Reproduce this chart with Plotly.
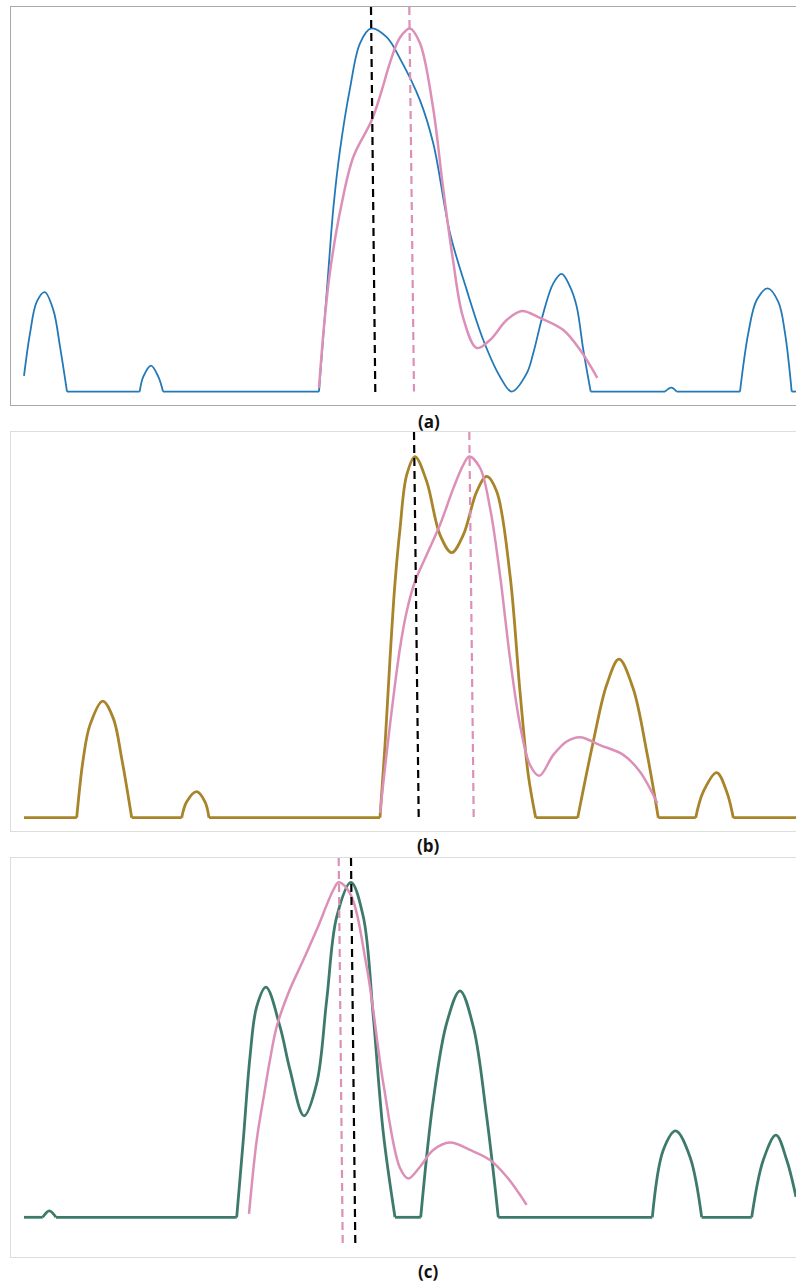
import plotly.graph_objects as go

# ---------------- data (position along x, normalised intensity) ----------------
a_blue_x = [24, 30, 36.7, 44.7, 53.3, 60, 67, 139.7, 143.3, 151, 158.3, 163,
            319, 328.3, 333.3, 340, 350, 360, 371, 386.7, 400, 420, 433.3, 450, 466.7,
            483.3, 500, 511.7, 526.7, 533.3, 543.3, 553.3, 561.7, 570, 576.7, 583.3, 590.7,
            665, 671.3, 676.7, 740, 748.3, 756.7, 767.7, 778.3, 785, 791.7, 796]
a_blue_y = [0.043, 0.160, 0.247, 0.274, 0.225, 0.124, 0, 0, 0.041, 0.0715, 0.041, 0,
            0, 0.330, 0.504, 0.665, 0.835, 0.959, 1.0, 0.976, 0.917, 0.802, 0.683, 0.436, 0.280,
            0.142, 0.041, 0, 0.050, 0.106, 0.216, 0.298, 0.324, 0.289, 0.234, 0.115, 0,
            0, 0.011, 0, 0, 0.161, 0.252, 0.284, 0.247, 0.161, 0, 0]
a_pink_x = [319, 324, 330, 340.7, 353.3, 371.7, 381.7, 390, 400, 410,
            420, 433, 443, 453, 463, 476.7, 490, 506.7, 521.7, 540, 563, 580, 597.3]
a_pink_y = [0.010, 0.180, 0.330, 0.504, 0.646, 0.747, 0.829, 0.906, 0.975,
            1.0, 0.959, 0.783, 0.563, 0.362, 0.205, 0.120, 0.142, 0.197, 0.222, 0.203, 0.170,
            0.115, 0.038]

b_gold_x = [24, 76.7, 83.3, 90, 102.7, 113.3, 121.7, 131.7, 181.7, 186.7,
            196.7, 205, 209, 380, 385, 390, 395, 400, 406.7, 415, 426.7, 440,
            451.7, 463.3, 476.7, 486.7, 496.7, 510, 520, 528.3, 535.7, 577.7,
            593.3, 606.7, 619, 633, 646.7, 658.3, 695.7, 703.3, 716.7, 726.7,
            733.3, 796]
b_gold_y = [0, 0, 0.164, 0.257, 0.323, 0.275, 0.164, 0, 0, 0.044,
            0.072, 0.044, 0, 0, 0.20, 0.44, 0.65, 0.80, 0.949, 1.0, 0.931, 0.783,
            0.734, 0.783, 0.903, 0.945, 0.903, 0.672, 0.349, 0.118, 0, 0,
            0.211, 0.368, 0.439, 0.359, 0.183, 0, 0, 0.072, 0.125, 0.072,
            0, 0]
b_pink_x = [380, 390, 400, 406.7, 415, 426.7, 440, 453.3, 463.3, 469.3, 480, 490, 500, 510, 520,
            530, 539.3, 553.3, 566.7, 580, 600, 623.3, 640, 657.3]
b_pink_y = [0.013, 0.257, 0.470, 0.571, 0.654, 0.728, 0.811, 0.912, 0.977, 1.0, 0.969, 0.858,
            0.672, 0.442, 0.257, 0.146, 0.116, 0.174, 0.211, 0.223, 0.201, 0.174, 0.127, 0.040]

c_green_x = [24, 42.7, 49.3, 56, 236.7, 243.3, 250, 256.7, 266, 280, 290,
             304, 316.7, 326.7, 336.7, 351, 363.3, 373.3, 383.3, 395, 420.7,
             433.3, 446.7, 460, 473.3, 486.7, 498.3, 652.3, 663.3, 675.7, 690,
             701.7, 751.7, 763.3, 776, 786.7, 796]
c_green_y = [0, 0, 0.019, 0, 0, 0.231, 0.479, 0.629, 0.687, 0.569, 0.440,
             0.303, 0.400, 0.649, 0.897, 1.0, 0.897, 0.599, 0.252, 0, 0,
             0.350, 0.580, 0.676, 0.569, 0.300, 0, 0, 0.201, 0.258, 0.180,
             0, 0, 0.171, 0.245, 0.171, 0.061]
c_pink_x = [249, 256.7, 264.3, 270, 276.7, 288.3, 303.3, 316.7, 333.3, 338.7, 350, 366.7, 383.3,
            400, 408.3, 420, 433.3, 450, 470, 490, 506.7, 526.7]
c_pink_y = [0.010, 0.230, 0.370, 0.470, 0.569, 0.669, 0.768, 0.858, 0.977, 1.0, 0.967, 0.748,
            0.400, 0.147, 0.116, 0.151, 0.201, 0.223, 0.201, 0.171, 0.121, 0.037]

# peak markers: (x at top, x at bottom, y at bottom)
a_black_peak = (371.0, 375.3, -0.003)
a_pink_peak = (409.3, 414.0, 0.0)
b_black_peak = (414.0, 418.7, 0.0)
b_pink_peak = (469.3, 473.7, 0.0)
c_black_peak = (351.0, 355.3, -0.078)
c_pink_peak = (338.7, 342.7, -0.078)

panel_labels = ["(a)", "(b)", "(c)"]

# ---------------- styling ----------------
W, H = 796, 1283
BLUE = "#2379b8"
PINK = "#dc90b8"
GOLD = "#a8842a"
GREEN = "#3e7a6b"


def split_runs(xs, ys):
    """Break the series into runs at clipped-baseline corners so each lobe is
    its own smooth piece and baseline stretches stay straight."""
    n = len(xs)
    corner = [False] * n
    for k in range(n):
        if ys[k] == 0:
            if (k > 0 and ys[k - 1] == 0) or (k < n - 1 and ys[k + 1] == 0):
                corner[k] = True
    ox, oy = [xs[0]], [ys[0]]
    for k in range(1, n):
        ox.append(xs[k]); oy.append(ys[k])
        if corner[k] and 0 < k < n - 1:
            ox += [None, xs[k]]; oy += [None, ys[k]]
    return ox, oy


panels = [
    dict(yr=[-0.037, 1.059], dom=[7, 405], border="#a9a9a9", bw=1.3,
         curves=[(a_blue_x, a_blue_y, BLUE, 1.8), (a_pink_x, a_pink_y, PINK, 2.5)],
         peaks=[(a_black_peak, "black"), (a_pink_peak, PINK)], label_y=421),
    dict(yr=[-0.036, 1.068], dom=[432, 830.7], border="#dddddd", bw=1.0,
         curves=[(b_gold_x, b_gold_y, GOLD, 2.8), (b_pink_x, b_pink_y, PINK, 2.5)],
         peaks=[(b_black_peak, "black"), (b_pink_peak, PINK)], label_y=845),
    dict(yr=[-0.1185, 1.0725], dom=[858, 1257], border="#dddddd", bw=1.0,
         curves=[(c_green_x, c_green_y, GREEN, 2.8), (c_pink_x, c_pink_y, PINK, 2.5)],
         peaks=[(c_black_peak, "black"), (c_pink_peak, PINK)], label_y=1271),
]

fig = go.Figure()
layout = dict(width=W, height=H, margin=dict(l=0, r=0, t=0, b=0),
              paper_bgcolor="white", plot_bgcolor="white", showlegend=False)
annotations = []
for i, p in enumerate(panels):
    n = "" if i == 0 else str(i + 1)
    xa, ya = "x" + n, "y" + n
    for (xs, ys, col, w) in p["curves"]:
        sx, sy = split_runs(xs, ys)
        fig.add_trace(go.Scatter(x=sx, y=sy, mode="lines", xaxis=xa, yaxis=ya,
                                 connectgaps=False,
                                 line=dict(color=col, width=w, shape="spline", smoothing=1.0),
                                 hoverinfo="skip"))
    for (pk, col) in p["peaks"]:
        fig.add_trace(go.Scatter(x=[pk[0], pk[1]], y=[p["yr"][1], pk[2]], mode="lines",
                                 xaxis=xa, yaxis=ya,
                                 line=dict(color=col, width=2.2, dash="8px,5px"),
                                 hoverinfo="skip"))
    axcommon = dict(showgrid=False, zeroline=False, showticklabels=False, ticks="",
                    showline=True, mirror=True, linecolor=p["border"], linewidth=p["bw"],
                    fixedrange=True)
    layout["xaxis" + n] = dict(domain=[11 / W, 1.0], range=[11, 796], anchor=ya, **axcommon)
    layout["yaxis" + n] = dict(domain=[1 - p["dom"][1] / H, 1 - p["dom"][0] / H],
                               range=p["yr"], anchor=xa, **axcommon)
    annotations.append(dict(text="<b>" + panel_labels[i] + "</b>", xref="paper", yref="paper",
                            x=428.5 / W, y=1 - p["label_y"] / H, showarrow=False,
                            xanchor="center", yanchor="middle",
                            font=dict(family="Open Sans", size=17, color="#111111")))
layout["annotations"] = annotations
fig.update_layout(**layout)
fig.write_html("out.html", config={"displayModeBar": False},
               post_script="document.body.style.margin='0';document.body.style.overflow='hidden';")
